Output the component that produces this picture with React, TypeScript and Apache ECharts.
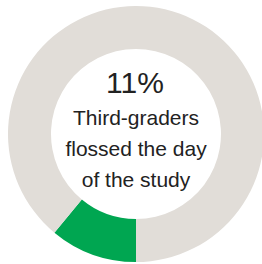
import React, { useEffect, useRef } from "react";
import * as echarts from "echarts";

const categories = ["Flossed", "Did not floss"];
const values = [11, 89];
const colors = ["#00a651", "#e1ddd8"];
const headline = "11%";
const captionLines = ["Third-graders", "flossed the day", "of the study"];

export default function App() {
  const ref = useRef<HTMLDivElement>(null);
  useEffect(() => {
    document.body.style.margin = "0";
    const chart = echarts.init(ref.current!, undefined, { renderer: "svg" });
    const font = "'Liberation Sans', Arial, Helvetica, sans-serif";
    const lineYs = [117, 148, 179];
    chart.setOption({
      animation: false,
      series: [
        {
          type: "pie",
          center: [136, 134],
          radius: [85, 128],
          startAngle: -90,
          clockwise: true,
          silent: true,
          label: { show: false },
          labelLine: { show: false },
          data: categories.map((name, i) => ({
            name,
            value: values[i],
            itemStyle: { color: colors[i] },
          })),
        },
      ],
      graphic: [
        {
          type: "text",
          x: 135,
          y: 82,
          style: {
            text: headline,
            font: `30px ${font}`,
            fill: "#222222",
            align: "center",
            verticalAlign: "middle",
          },
        },
        ...captionLines.map((t, i) => ({
          type: "text",
          x: 136,
          y: lineYs[i],
          style: {
            text: t,
            font: `21px ${font}`,
            fill: "#222222",
            align: "center",
            verticalAlign: "middle",
          },
        })),
      ],
    });
    return () => chart.dispose();
  }, []);
  return <div ref={ref} style={{ width: 262, height: 264 }} />;
}
